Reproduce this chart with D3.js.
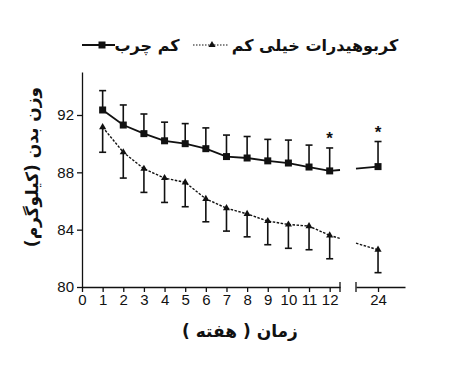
<!DOCTYPE html>
<html lang="fa"><head><meta charset="UTF-8">
<script src="https://d3js.org/d3.v7.min.js"></script>
<style>
  body { margin: 0; background: #fff; }
  svg text { fill: #111; }
</style>
</head>
<body>
<div id="chart"></div>
<script>
// data (kg)
var weeks = [1, 2, 3, 4, 5, 6, 7, 8, 9, 10, 11, 12, 24];
var lowFat = [92.35, 91.3, 90.7, 90.2, 90.0, 89.65, 89.1, 89.0, 88.8, 88.65, 88.37, 88.1, 88.4];
var lowFatErr = [1.35, 1.4, 1.37, 1.3, 1.4, 1.45, 1.5, 1.5, 1.5, 1.6, 1.53, 1.6, 1.75];
var lowCarb = [91.15, 89.4, 88.25, 87.6, 87.3, 86.15, 85.5, 85.1, 84.6, 84.36, 84.25, 83.6, 82.6];
var lowCarbErr = [1.75, 1.8, 1.65, 1.7, 1.7, 1.6, 1.6, 1.6, 1.65, 1.66, 1.65, 1.63, 1.6];
var starWeeks = [12, 24];
var yTicks = [80, 84, 88, 92];
var xTicks1 = [0, 1, 2, 3, 4, 5, 6, 7, 8, 9, 10, 11, 12];
var xTicks2 = [24];
var legendNames = ["کم چرب", "کربوهیدرات خیلی کم"];
var xTitle = "زمان ( هفته )";
var yTitle = "وزن بدن (کیلوگرم)";

var W = 450, H = 380;
var svg = d3.select("#chart").append("svg").attr("width", W).attr("height", H);

var x1 = d3.scaleLinear().domain([0, 12.5]).range([82, 340]);
var x2 = d3.scaleLinear().domain([22.93, 25.31]).range([356, 405]);
function xp(w) { return w <= 12.5 ? x1(w) : x2(w); }
var y = d3.scaleLinear().domain([80, 95]).range([287, 72]);

// axes
var tickFont = "Liberation Sans, Arial, sans-serif";
var yAxis = svg.append("g").attr("transform", "translate(82,0)")
  .call(d3.axisLeft(y).tickValues(yTicks).tickSize(5).tickPadding(3).tickSizeOuter(0));
var xa1 = svg.append("g").attr("transform", "translate(0,287)")
  .call(d3.axisBottom(x1).tickValues(xTicks1).tickFormat(d3.format("d")).tickSize(5).tickPadding(2).tickSizeOuter(0));
var xa2 = svg.append("g").attr("transform", "translate(0,287)")
  .call(d3.axisBottom(x2).tickValues(xTicks2).tickFormat(d3.format("d")).tickSize(5).tickPadding(2).tickSizeOuter(0));
[yAxis, xa1, xa2].forEach(function(g) {
  g.selectAll("path, line").attr("stroke", "#111").attr("stroke-width", 1.3);
  g.selectAll("text").style("font-family", tickFont).style("font-size", "15px").attr("fill", "#111");
});
// end bars at the axis break
[x1.range()[1], x2.range()[0]].forEach(function(px) {
  svg.append("line").attr("x1", px).attr("x2", px).attr("y1", 282).attr("y2", 292)
    .attr("stroke", "#111").attr("stroke-width", 1.3);
});

// series drawing
function drawSeries(vals, errs, dir, dashed, marker) {
  var pts = weeks.map(function(w, i) { return { w: w, v: vals[i], e: errs[i] }; });
  var first = pts.filter(function(p) { return p.w <= 12; });
  var a = pts[11], b = pts[12];
  var line = d3.line().x(function(p) { return xp(p.w); }).y(function(p) { return y(p.v); });
  function style(sel) {
    sel.attr("fill", "none").attr("stroke", "#111").attr("stroke-width", dashed ? 1.4 : 1.8);
    if (dashed) sel.attr("stroke-dasharray", "2.5,1.5");
    return sel;
  }
  style(svg.append("path").attr("d", line(first)));
  // broken segment from week 12 to week 24
  var ax = xp(a.w), ay = y(a.v), bx = xp(b.w), by = y(b.v);
  function at(px) { return ay + (by - ay) * (px - ax) / (bx - ax); }
  var e1 = x1.range()[1], s2 = x2.range()[0];
  style(svg.append("line").attr("x1", ax).attr("y1", ay).attr("x2", e1).attr("y2", at(e1)));
  style(svg.append("line").attr("x1", s2).attr("y1", at(s2)).attr("x2", bx).attr("y2", by));

  // error bars
  pts.forEach(function(p) {
    var px = xp(p.w), y0 = y(p.v), y1 = y(p.v + dir * p.e);
    svg.append("line").attr("x1", px).attr("x2", px).attr("y1", y0).attr("y2", y1)
      .attr("stroke", "#111").attr("stroke-width", 1.6);
    svg.append("line").attr("x1", px - 3.5).attr("x2", px + 3.5).attr("y1", y1).attr("y2", y1)
      .attr("stroke", "#111").attr("stroke-width", 1.6);
  });
  pts.forEach(function(p) { marker(xp(p.w), y(p.v)); });
}
function square(cx, cy) {
  svg.append("rect").attr("x", cx - 3.5).attr("y", cy - 3.5).attr("width", 7).attr("height", 7).attr("fill", "#111");
}
function tri(cx, cy) {
  svg.append("path").attr("d", d3.symbol().type(d3.symbolTriangle).size(22)())
    .attr("transform", "translate(" + cx + "," + cy + ")").attr("fill", "#111");
}

drawSeries(lowFat, lowFatErr, 1, false, square);
drawSeries(lowCarb, lowCarbErr, -1, true, tri);

// significance stars
starWeeks.forEach(function(w) {
  var i = weeks.indexOf(w);
  svg.append("text").attr("x", xp(w)).attr("y", y(lowFat[i] + lowFatErr[i]) - 4)
    .attr("text-anchor", "middle").style("font-family", tickFont).style("font-size", "17px")
    .style("font-weight", "bold").text("*");
});

// legend
var lg = svg.append("g");
lg.append("line").attr("x1", 82).attr("x2", 115).attr("y1", 45).attr("y2", 45)
  .attr("stroke", "#111").attr("stroke-width", 1.8);
square(102, 45);
lg.append("text").attr("x", 147).attr("y", 51).attr("text-anchor", "middle")
  .style("font-family", "DejaVu Sans").style("font-size", "16px").style("font-weight", "bold")
  .text(legendNames[0]);
lg.append("line").attr("x1", 193).attr("x2", 228).attr("y1", 45).attr("y2", 45)
  .attr("stroke", "#111").attr("stroke-width", 1.2).attr("stroke-dasharray", "1.5,1.5");
tri(212, 45);
lg.append("text").attr("x", 315).attr("y", 51).attr("text-anchor", "middle")
  .style("font-family", "DejaVu Sans").style("font-size", "16px").style("font-weight", "bold")
  .text(legendNames[1]);

// axis titles
svg.append("text").attr("x", 240).attr("y", 337).attr("text-anchor", "middle")
  .style("font-family", "DejaVu Sans").style("font-size", "17px").style("font-weight", "bold")
  .text(xTitle);
svg.append("text").attr("transform", "translate(38,167) rotate(-90)").attr("text-anchor", "middle")
  .style("font-family", "DejaVu Sans").style("font-size", "17px").style("font-weight", "bold")
  .text(yTitle);
</script>
</body>
</html>
